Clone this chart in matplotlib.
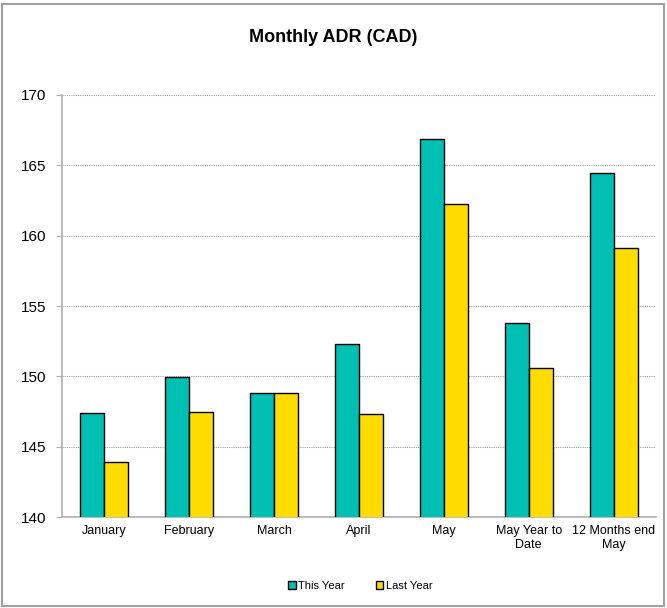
import matplotlib.pyplot as plt
import numpy as np
from matplotlib.patches import Rectangle

plt.rcParams['font.family'] = ['Liberation Sans', 'DejaVu Sans']

categories = ["January", "February", "March", "April", "May",
              "May Year to\nDate", "12 Months end\nMay"]
this_year = [147.4, 149.95, 148.85, 152.3, 166.9, 153.8, 164.45]
last_year = [143.9, 147.5, 148.8, 147.35, 162.25, 150.6, 159.1]

teal = "#00BFB3"
yellow = "#FFDC00"

fig = plt.figure(figsize=(6.67, 6.08), dpi=100)
ax = fig.add_axes([62 / 667, 1 - 517 / 608, 594 / 667, 422 / 608])

x = np.arange(len(categories))
w = 0.283
ax.bar(x - w / 2, this_year, w, color=teal, edgecolor="black", linewidth=1.0,
       label="This Year", zorder=3)
ax.bar(x + w / 2, last_year, w, color=yellow, edgecolor="black", linewidth=1.0,
       label="Last Year", zorder=3)

ax.set_xlim(-0.5, len(categories) - 0.5)
ax.set_ylim(140, 170)
ax.set_yticks(np.arange(140, 171, 5))
ax.set_xticks(x)
ax.set_xticklabels(categories, fontsize=9)
ax.tick_params(axis="y", labelsize=11, direction="out", length=4, pad=7,
               color="#b0b0b0")
ax.tick_params(axis="x", length=0, pad=6)
ax.yaxis.grid(True, linestyle=(0, (1, 1)), color="#a0a0a0", linewidth=0.8, zorder=0)

for s in ["top", "right"]:
    ax.spines[s].set_visible(False)
for s in ["left", "bottom"]:
    ax.spines[s].set_color("#b0b0b0")
    ax.spines[s].set_linewidth(1.2)

fig.text(0.5, 1 - 38 / 608, "Monthly ADR (CAD)", ha="center", va="center",
         fontsize=13, fontweight="bold")

fig.legend(loc="center", bbox_to_anchor=(360 / 667, 1 - 586 / 608), ncol=2,
           frameon=False, fontsize=8, handlelength=0.7, handleheight=0.7,
           handletextpad=0.2, columnspacing=2.8)

fig.patches.append(Rectangle((2 / 667, 2 / 608), 662 / 667, 602 / 608,
                             transform=fig.transFigure, fill=False,
                             edgecolor="#a0a0a0", linewidth=1.5))

fig.savefig("out.png", dpi=100)
